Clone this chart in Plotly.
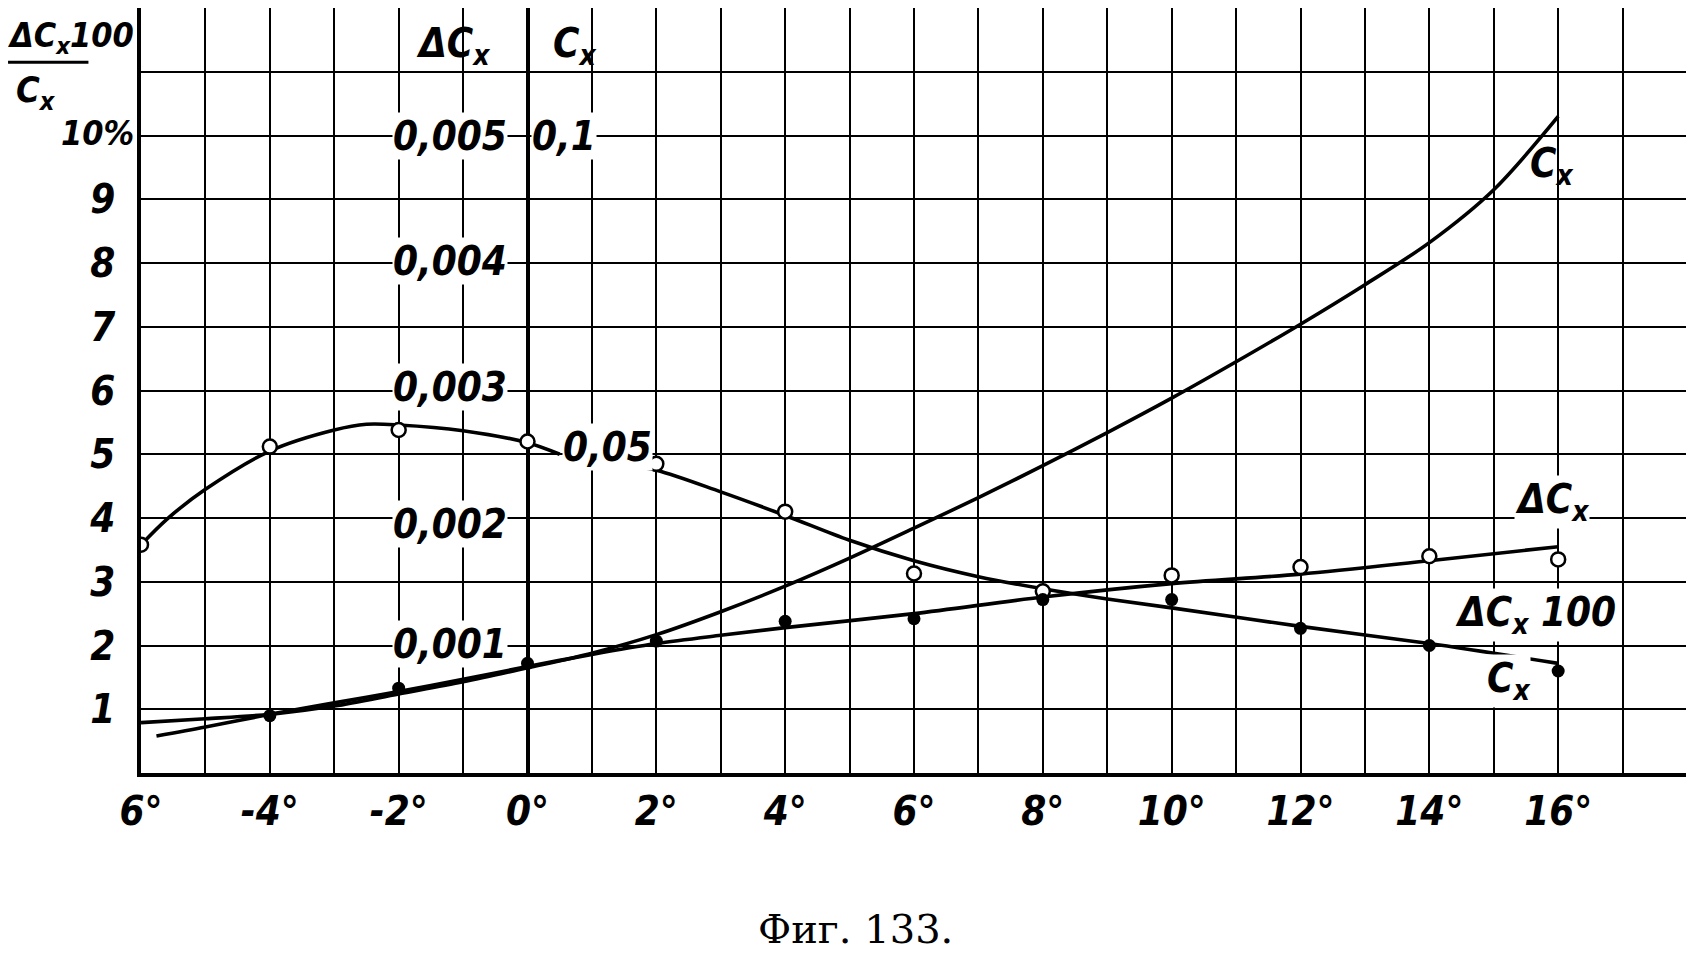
import plotly.graph_objects as go

# Фиг. 133: ΔCx, Cx и ΔCx·100/Cx в зависимости от угла атаки α

# Cx (шкала: 0,1 на отметке 10)
alpha_cx = [-6, -5, -4, -3, -2, -1, 0, 1, 2, 3, 4, 5, 6, 7, 8, 9, 10, 11, 12, 13, 14, 15, 16]
cx = [0.0079, 0.0085, 0.0092, 0.0105, 0.0124, 0.0143, 0.0165, 0.0188, 0.0217, 0.0253, 0.0293,
      0.0337, 0.0384, 0.0432, 0.0482, 0.0534, 0.0588, 0.0645, 0.0704, 0.0766, 0.0832, 0.0915, 0.103]

# ΔCx (шкала: 0,005 на отметке 10)
alpha_dcx = [-5.76, -5, -4, -3, -2, -1, 0, 1, 2, 3, 4, 6, 8, 10, 12, 14, 16]
dcx = [0.00029, 0.00036, 0.00046, 0.00055, 0.00064, 0.000735, 0.000835, 0.00093, 0.001015,
       0.00108, 0.00114, 0.00125, 0.00138, 0.001485, 0.00156, 0.001665, 0.001775]

# ΔCx·100/Cx, % (кривая прерывается у подписи 0,05)
alpha_ratio_a = [-6, -5.6, -5, -4, -3, -2.5, -2, -1, 0, 0.5]
ratio_a = [3.58, 3.98, 4.45, 5.05, 5.38, 5.47, 5.46, 5.37, 5.18, 5.0]
alpha_ratio_b = [1.05, 2, 3, 4, 5, 6, 7, 8, 9, 10, 12, 14, 16]
ratio_b = [4.92, 4.75, 4.41, 4.04, 3.65, 3.33, 3.08, 2.89, 2.73, 2.59, 2.3, 2.03, 1.72]

# опытные точки (в делениях сетки)
open_x = [-6, -4, -2, 0, 2, 4, 6, 8, 10, 12, 14, 16]
open_y = [3.58, 5.12, 5.38, 5.2, 4.85, 4.1, 3.13, 2.85, 3.1, 3.23, 3.4, 3.35]
filled_x = [-4, -2, 0, 2, 4, 6, 8, 10, 12, 14, 16]
filled_y = [0.9, 1.33, 1.72, 2.07, 2.38, 2.42, 2.72, 2.72, 2.27, 2.0, 1.6]

x_ticks = list(range(-6, 19))
x_labels = {-6: "6°", -4: "-4°", -2: "-2°", 0: "0°", 2: "2°", 4: "4°", 6: "6°",
            8: "8°", 10: "10°", 12: "12°", 14: "14°", 16: "16°"}
y_ticks = list(range(0, 13))
y_labels = {1: "1", 2: "2", 3: "3", 4: "4", 5: "5", 6: "6", 7: "7", 8: "8", 9: "9"}

FONT = "DejaVu Sans Condensed, DejaVu Sans"
line_style = dict(color="black", width=3.6, shape="spline", smoothing=0.9)

fig = go.Figure()
fig.add_trace(go.Scatter(x=alpha_cx, y=[v * 100 for v in cx], mode="lines", line=line_style))
fig.add_trace(go.Scatter(x=alpha_dcx, y=[v * 2000 for v in dcx], mode="lines", line=line_style))
fig.add_trace(go.Scatter(x=alpha_ratio_a, y=ratio_a, mode="lines", line=line_style))
fig.add_trace(go.Scatter(x=alpha_ratio_b, y=ratio_b, mode="lines", line=line_style))
fig.add_trace(go.Scatter(
    x=open_x, y=open_y, mode="markers",
    marker=dict(symbol="circle", size=14, color="white", line=dict(color="black", width=2.5)),
))
fig.add_trace(go.Scatter(
    x=filled_x, y=filled_y, mode="markers",
    marker=dict(symbol="circle", size=13, color="black"),
))


def label(text, x, y, size=40, bg=None, xref="x", yref="y", xanchor="center"):
    fig.add_annotation(
        text=text, x=x, y=y, xref=xref, yref=yref, showarrow=False,
        xanchor=xanchor, yanchor="middle", bgcolor=bg, borderpad=0,
        font=dict(family=FONT, size=size, color="black", style="italic", weight="bold"),
    )


# шкалы ΔCx и Cx у оси 0°
label("ΔC<sub>x</sub>", -1.15, 11.4)
label("C<sub>x</sub>", 0.73, 11.4)
for txt, yy in [("0,005", 10.0), ("0,004", 8.03), ("0,003", 6.05), ("0,002", 3.9), ("0,001", 2.03)]:
    label(txt, -1.2, yy, bg="white")
label("0,1", 0.56, 10.0, bg="white")
label("0,05", 1.24, 5.12, bg="white")

# подписи кривых
label("C<sub>x</sub>", 15.9, 9.52)
label("ΔC<sub>x</sub>", 15.9, 4.25, bg="white")
label("ΔC<sub>x</sub> 100", 15.65, 2.48, bg="white")
label("C<sub>x</sub>", 15.23, 1.45, bg="white")
label("α°", 17.75, -0.53)

# заголовок левой шкалы
label("ΔC<sub>x</sub>100", -0.087, 0.961, size=34, xref="paper", yref="paper", xanchor="left")
label("C<sub>x</sub>", -0.068, 0.89, size=36, xref="paper", yref="paper")
label("10%", -0.004, 0.837, size=34, xref="paper", yref="paper", xanchor="right")
fig.add_shape(type="line", xref="paper", yref="paper", x0=-0.086, x1=-0.034, y0=0.929, y1=0.929,
              line=dict(color="black", width=3))

fig.add_annotation(
    text="Фиг. 133.", x=0.462, y=-0.204, xref="paper", yref="paper", showarrow=False,
    xanchor="center", yanchor="middle",
    font=dict(family="DejaVu Serif", size=40, color="black"),
)

fig.update_xaxes(
    range=[-6, 18], tickvals=x_ticks, ticktext=[x_labels.get(t, "") for t in x_ticks],
    ticks="", ticklabelstandoff=0, automargin=False,
    showgrid=True, gridcolor="black", gridwidth=2.2,
    zeroline=True, zerolinecolor="black", zerolinewidth=3.5,
    showline=True, mirror=True, linecolor="black", linewidth=3.5,
    tickfont=dict(family=FONT, size=40, color="black", style="italic", weight="bold"),
)
fig.update_yaxes(
    range=[0, 12], tickvals=y_ticks, ticktext=[y_labels.get(t, "") for t in y_ticks],
    ticks="", ticklabelstandoff=14, automargin=False,
    showgrid=True, gridcolor="black", gridwidth=2.2,
    zeroline=False, showline=True, mirror=True, linecolor="black", linewidth=3.5,
    tickfont=dict(family=FONT, size=40, color="black", style="italic", weight="bold"),
)
fig.update_layout(
    width=1694, height=956, showlegend=False,
    margin=dict(l=133, r=15, t=0, b=191, autoexpand=False),
    plot_bgcolor="white", paper_bgcolor="white",
)
fig.write_html("out.html", config={"responsive": False})
